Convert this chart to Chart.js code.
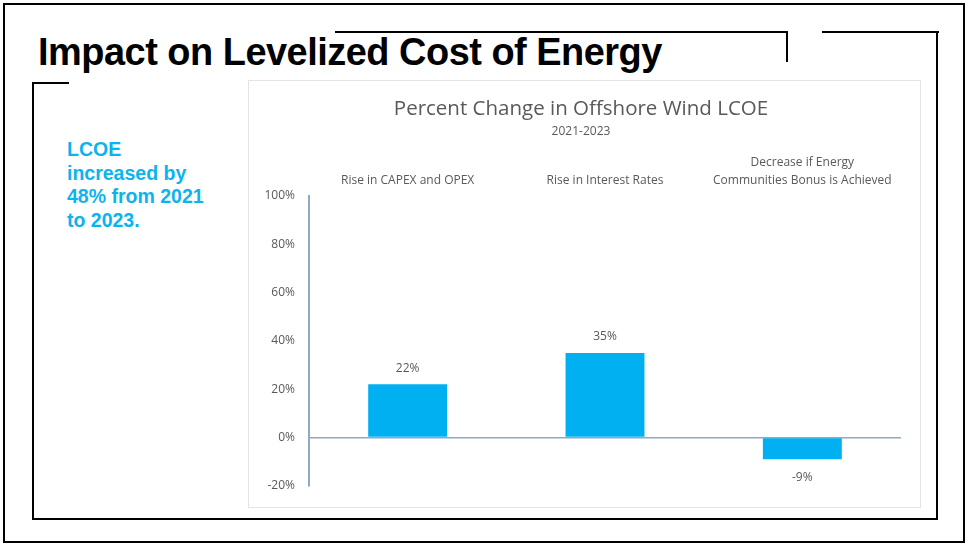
<!DOCTYPE html>
<html>
<head>
<meta charset="utf-8">
<script src="https://cdn.jsdelivr.net/npm/chart.js@4"></script>
<style>
    body { margin: 0; width: 968px; height: 545px; background: #fff; position: relative; overflow: hidden; font-family: "Liberation Sans", Arial, sans-serif; }
    .frame { position: absolute; left: 3px; top: 3px; width: 958px; height: 536px; border: 2px solid #000; }
    .ln { position: absolute; background: #000; }
    #title { position: absolute; left: 38px; top: 31px; font-size: 38px; font-weight: bold; color: #000; white-space: nowrap; transform-origin: left top; letter-spacing: -0.5px; }
    #note { position: absolute; left: 67px; top: 138px; font-size: 19.5px; font-weight: bold; color: #0BB4EE; line-height: 23.5px; }
    .panel { position: absolute; left: 248px; top: 80px; width: 671px; height: 426px; border: 1px solid #e4e4e4; background: #fff; }
    .panel canvas { position: absolute; left: 0; top: 0; }
</style>
</head>
<body>
<div class="frame"></div>
<div class="ln" style="left:335px; top:31px; width:453px; height:2px;"></div>
<div class="ln" style="left:786px; top:31px; width:2px; height:31px;"></div>
<div class="ln" style="left:822px; top:31px; width:117px; height:2px;"></div>
<div class="ln" style="left:936px; top:31px; width:2px; height:489px;"></div>
<div class="ln" style="left:32px; top:82px; width:37px; height:2px;"></div>
<div class="ln" style="left:32px; top:82px; width:2px; height:438px;"></div>
<div class="ln" style="left:32px; top:518px; width:906px; height:2px;"></div>

<div id="title">Impact on Levelized Cost of Energy</div>
<div id="note">LCOE<br>increased by<br>48% from 2021<br>to 2023.</div>

<div class="panel">
    <canvas id="lcoeChart" width="671" height="426"></canvas>
</div>

<script>
const categories = [
    "Rise in CAPEX and OPEX",
    "Rise in Interest Rates",
    ["Decrease if Energy", "Communities Bonus is Achieved"]
];
const changePct = [22, 35, -9];
const yTicks = [-20, 0, 20, 40, 60, 80, 100];

// squeeze the heading to the width it has on the slide
const t = document.getElementById("title");
t.style.transform = "scaleX(" + (624 / t.offsetWidth) + ")";

const grey = "#595959";
const axisBlue = "#8DA9C4";

// value labels above / below each bar
const valueLabels = {
    id: "valueLabels",
    afterDatasetsDraw(chart) {
        const ctx = chart.ctx;
        const meta = chart.getDatasetMeta(0);
        ctx.save();
        ctx.font = "12px 'Open Sans', sans-serif";
        ctx.fillStyle = grey;
        ctx.textAlign = "center";
        ctx.textBaseline = "middle";
        meta.data.forEach((bar, i) => {
            const v = changePct[i];
            const y = v >= 0 ? bar.y - 16 : bar.y + 18;
            ctx.fillText(v + "%", bar.x, y);
        });
        ctx.restore();
    }
};

new Chart(document.getElementById("lcoeChart"), {
    type: "bar",
    data: {
        labels: categories,
        datasets: [{
            data: changePct,
            backgroundColor: "#00B0F0",
            barPercentage: 0.4,
            categoryPercentage: 1
        }]
    },
    options: {
        responsive: false,
        animation: false,
        layout: { padding: { left: 12, right: 19, top: 0, bottom: 14 } },
        plugins: {
            legend: { display: false },
            tooltip: { enabled: false },
            title: {
                display: true,
                text: "Percent Change in Offshore Wind LCOE",
                color: grey,
                font: { family: "'Open Sans', sans-serif", size: 20.5, weight: "normal" },
                padding: { top: 16, bottom: 3 }
            },
            subtitle: {
                display: true,
                text: "2021-2023",
                color: grey,
                font: { family: "'Open Sans', sans-serif", size: 12 },
                padding: { top: 0, bottom: 0 }
            }
        },
        scales: {
            x: {
                position: "top",
                grid: { display: false },
                border: { display: false },
                ticks: {
                    color: grey,
                    font: { family: "'Open Sans', sans-serif", size: 12, lineHeight: 1.55 },
                    padding: -2,
                    maxRotation: 0
                },
                afterFit(scale) { scale.height = 57; }
            },
            y: {
                min: -20,
                max: 100,
                afterBuildTicks(scale) { scale.ticks = yTicks.map(v => ({ value: v })); },
                grid: {
                    drawTicks: false,
                    color: c => c.tick && c.tick.value === 0 ? axisBlue : "transparent",
                    lineWidth: 1.5
                },
                border: { display: true, color: axisBlue, width: 2 },
                ticks: {
                    color: grey,
                    font: { family: "'Open Sans', sans-serif", size: 12 },
                    padding: 14,
                    callback: v => v + "%"
                },
                afterFit(scale) { scale.width = 48; }
            }
        }
    },
    plugins: [valueLabels]
});
</script>
</body>
</html>
